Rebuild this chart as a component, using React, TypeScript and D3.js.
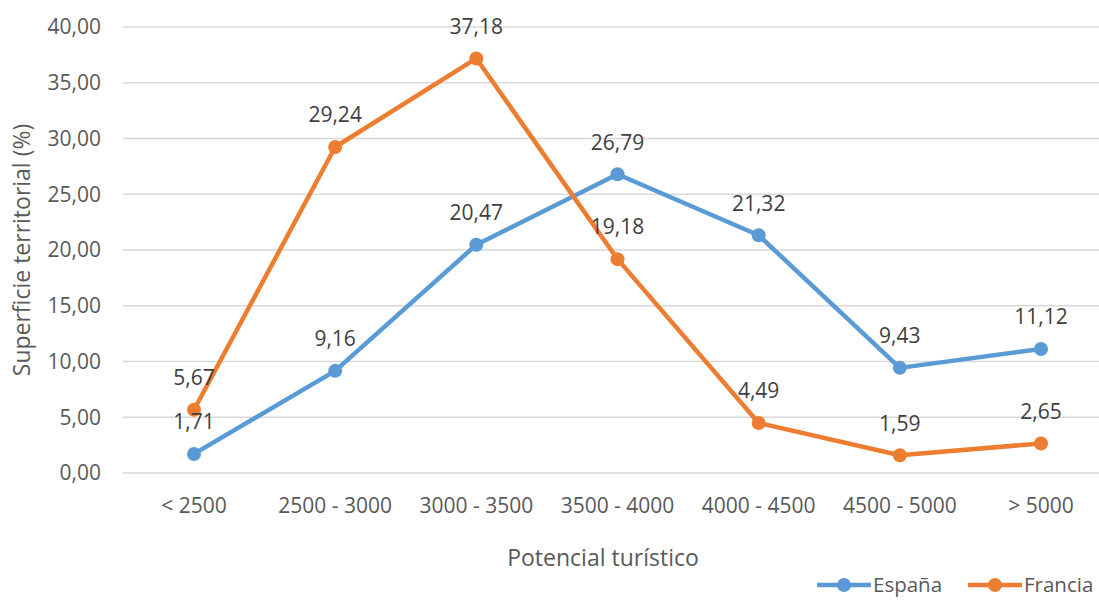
import React, { useEffect, useRef } from 'react';
import * as d3 from 'd3';

const categories = ['< 2500', '2500 - 3000', '3000 - 3500', '3500 - 4000', '4000 - 4500', '4500 - 5000', '> 5000'];
const espana = [1.71, 9.16, 20.47, 26.79, 21.32, 9.43, 11.12];
const francia = [5.67, 29.24, 37.18, 19.18, 4.49, 1.59, 2.65];
const yTicks = [0, 5, 10, 15, 20, 25, 30, 35, 40];

const series = [
  { name: 'España', values: espana, color: '#5B9BD5' },
  { name: 'Francia', values: francia, color: '#ED7D31' },
];

const fmt = (v: number) => v.toFixed(2).replace('.', ',');

export default function App() {
  const ref = useRef<SVGSVGElement>(null);
  const width = 1099;
  const height = 600;
  const font = 'Open Sans, Liberation Sans, sans-serif';

  useEffect(() => {
    const svg = d3.select(ref.current);
    svg.selectAll('*').remove();

    const x = d3.scalePoint<string>().domain(categories).range([194, 1041]);
    const y = d3.scaleLinear().domain([0, 40]).range([473, 27]);

    // gridlines
    svg.append('g')
      .selectAll('line')
      .data(yTicks)
      .join('line')
      .attr('x1', 123)
      .attr('x2', 1112)
      .attr('y1', d => y(d))
      .attr('y2', d => y(d))
      .attr('stroke', '#d9d9d9')
      .attr('stroke-width', 1.3);

    // y tick labels
    svg.append('g')
      .selectAll('text')
      .data(yTicks)
      .join('text')
      .attr('x', 101)
      .attr('y', d => y(d))
      .attr('dy', '0.35em')
      .attr('text-anchor', 'end')
      .attr('font-size', 21)
      .attr('font-family', font)
      .attr('fill', '#595959')
      .text(d => fmt(d));

    // x tick labels
    svg.append('g')
      .selectAll('text')
      .data(categories)
      .join('text')
      .attr('x', d => x(d)!)
      .attr('y', 506)
      .attr('dy', '0.35em')
      .attr('text-anchor', 'middle')
      .attr('font-size', 21)
      .attr('font-family', font)
      .attr('fill', '#595959')
      .text(d => d);

    // axis titles
    svg.append('text')
      .attr('transform', 'translate(22,250) rotate(-90)')
      .attr('dy', '0.35em')
      .attr('text-anchor', 'middle')
      .attr('font-size', 23)
      .attr('font-family', font)
      .attr('fill', '#595959')
      .text('Superficie territorial (%)');

    svg.append('text')
      .attr('x', 603)
      .attr('y', 558)
      .attr('dy', '0.35em')
      .attr('text-anchor', 'middle')
      .attr('font-size', 23)
      .attr('font-family', font)
      .attr('fill', '#595959')
      .text('Potencial turístico');

    const line = d3.line<number>()
      .x((_, i) => x(categories[i])!)
      .y(d => y(d));

    series.forEach(s => {
      const g = svg.append('g');
      g.append('path')
        .attr('d', line(s.values))
        .attr('fill', 'none')
        .attr('stroke', s.color)
        .attr('stroke-width', 4.5)
        .attr('stroke-linejoin', 'round');
      g.selectAll('circle')
        .data(s.values)
        .join('circle')
        .attr('cx', (_, i) => x(categories[i])!)
        .attr('cy', d => y(d))
        .attr('r', 7)
        .attr('fill', s.color);
    });

    // data labels
    series.forEach(s => {
      svg.append('g')
        .selectAll('text')
        .data(s.values)
        .join('text')
        .attr('x', (_, i) => x(categories[i])!)
        .attr('y', d => y(d) - 32)
        .attr('dy', '0.35em')
        .attr('text-anchor', 'middle')
        .attr('font-size', 21)
        .attr('font-family', font)
        .attr('fill', '#404040')
        .text(d => fmt(d));
    });

    // legend
    const legendY = 585;
    const legend = [
      { s: series[0], x0: 817 },
      { s: series[1], x0: 968 },
    ];
    legend.forEach(({ s, x0 }) => {
      const g = svg.append('g');
      g.append('line')
        .attr('x1', x0)
        .attr('x2', x0 + 54)
        .attr('y1', legendY)
        .attr('y2', legendY)
        .attr('stroke', s.color)
        .attr('stroke-width', 4.5);
      g.append('circle')
        .attr('cx', x0 + 27)
        .attr('cy', legendY)
        .attr('r', 7)
        .attr('fill', s.color);
      g.append('text')
        .attr('x', x0 + 56)
        .attr('y', legendY)
        .attr('dy', '0.35em')
        .attr('font-size', 20.5)
        .attr('font-family', font)
        .attr('fill', '#595959')
        .text(s.name);
    });
  }, []);

  return (
    <svg
      ref={ref}
      width={width}
      height={height}
      style={{ position: 'absolute', left: 0, top: 0, background: '#fff' }}
    />
  );
}
